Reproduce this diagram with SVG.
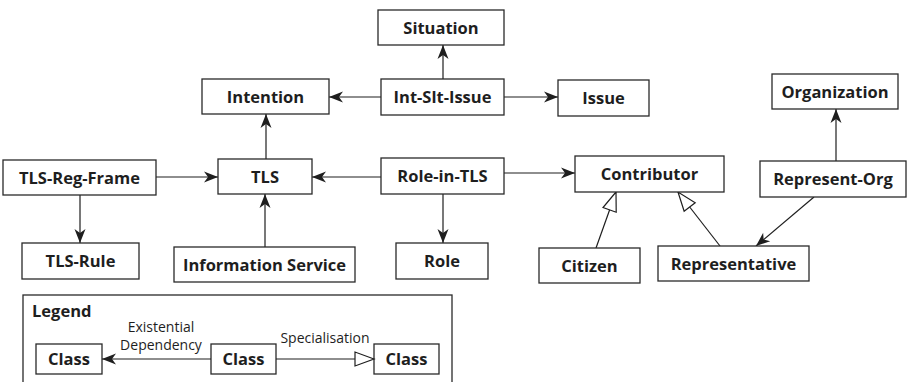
<svg xmlns="http://www.w3.org/2000/svg" width="912" height="382" viewBox="0 0 912 382">
  <style>
    .box { fill: #ffffff; stroke: #2a2a2a; stroke-width: 1.3; }
    .lbl { font-family: "Open Sans", "DejaVu Sans", sans-serif; font-weight: 700; font-size: 16.5px; fill: #1e1e1e; text-anchor: middle; }
    .note { font-family: "Open Sans", "DejaVu Sans", sans-serif; font-weight: 400; font-size: 14px; fill: #1e1e1e; text-anchor: middle; }
    .dep { fill: none; stroke: #1e1e1e; stroke-width: 1.2; marker-end: url(#dep); }
    .spec { fill: none; stroke: #1e1e1e; stroke-width: 1.2; marker-end: url(#spec); }
  </style>
  <defs>
    <!-- existential dependency: filled barbed head -->
    <marker id="dep" viewBox="-15 -7 16 14" refX="0" refY="0" markerWidth="16" markerHeight="14" markerUnits="userSpaceOnUse" orient="auto">
      <path d="M0,0 L-14,-5.5 L-10,0 L-14,5.5 Z" fill="#1e1e1e"/>
    </marker>
    <!-- specialisation: hollow triangle -->
    <marker id="spec" viewBox="-21 -9 23 18" refX="0" refY="0" markerWidth="23" markerHeight="18" markerUnits="userSpaceOnUse" orient="auto">
      <path d="M0,0 L-19,-7 L-19,7 Z" fill="#ffffff" stroke="#1e1e1e" stroke-width="1.2"/>
    </marker>
  </defs>

  <g id="connectors">
    <line class="dep" x1="443" y1="79" x2="443" y2="45"/>
    <line class="dep" x1="381" y1="97" x2="329" y2="97"/>
    <line class="dep" x1="504" y1="97" x2="558" y2="97"/>
    <line class="dep" x1="266" y1="159" x2="266" y2="114"/>
    <line class="dep" x1="156" y1="177" x2="218" y2="177"/>
    <line class="dep" x1="381" y1="177" x2="312" y2="177"/>
    <line class="dep" x1="504" y1="173" x2="575" y2="173"/>
    <line class="dep" x1="80" y1="195" x2="80" y2="243"/>
    <line class="dep" x1="265" y1="247" x2="265" y2="194"/>
    <line class="dep" x1="443" y1="194" x2="443" y2="243"/>
    <line class="dep" x1="836" y1="161" x2="836" y2="109"/>
    <line class="dep" x1="814" y1="197" x2="756" y2="246"/>
    <line class="spec" x1="596" y1="248" x2="616" y2="192"/>
    <line class="spec" x1="720" y1="246" x2="678" y2="192"/>
  </g>

  <g id="situation"><rect class="box" x="378" y="10" width="126" height="35"/><text class="lbl" x="441" y="33.5">Situation</text></g>
  <g id="intention"><rect class="box" x="202" y="79" width="127" height="35"/><text class="lbl" x="265.5" y="102.5">Intention</text></g>
  <g id="int-slt-issue"><rect class="box" x="381" y="79" width="123" height="36"/><text class="lbl" x="442.5" y="103">Int-Slt-Issue</text></g>
  <g id="issue"><rect class="box" x="558" y="80" width="91" height="36"/><text class="lbl" x="603.5" y="104">Issue</text></g>
  <g id="organization"><rect class="box" x="772" y="74" width="126" height="35"/><text class="lbl" x="835" y="97.5">Organization</text></g>
  <g id="tls-reg-frame"><rect class="box" x="3" y="160" width="153" height="35"/><text class="lbl" x="79.5" y="183.5">TLS-Reg-Frame</text></g>
  <g id="tls"><rect class="box" x="218" y="159" width="94" height="35"/><text class="lbl" x="265" y="182.5">TLS</text></g>
  <g id="role-in-tls"><rect class="box" x="381" y="158" width="123" height="36"/><text class="lbl" x="442.5" y="182">Role-in-TLS</text></g>
  <g id="contributor"><rect class="box" x="575" y="156" width="149" height="36"/><text class="lbl" x="649.5" y="180">Contributor</text></g>
  <g id="represent-org"><rect class="box" x="760" y="161" width="146" height="36"/><text class="lbl" x="833" y="185">Represent-Org</text></g>
  <g id="tls-rule"><rect class="box" x="22" y="243" width="117" height="36"/><text class="lbl" x="80.5" y="267">TLS-Rule</text></g>
  <g id="information-service"><rect class="box" x="174" y="247" width="181" height="35"/><text class="lbl" x="264.5" y="270.5">Information Service</text></g>
  <g id="role"><rect class="box" x="396" y="243" width="92" height="36"/><text class="lbl" x="442" y="267">Role</text></g>
  <g id="citizen"><rect class="box" x="539" y="248" width="101" height="35"/><text class="lbl" x="589.5" y="271.5">Citizen</text></g>
  <g id="representative"><rect class="box" x="658" y="246" width="151" height="35"/><text class="lbl" x="733.5" y="269.5">Representative</text></g>

  <g id="legend">
    <rect class="box" x="23" y="295" width="429" height="100"/>
    <text class="lbl" x="32" y="317" style="text-anchor:start">Legend</text>
    <g id="legend-class-a"><rect class="box" x="36" y="344" width="66" height="30"/><text class="lbl" x="69" y="365">Class</text></g>
    <g id="legend-class-b"><rect class="box" x="211" y="344" width="65" height="30"/><text class="lbl" x="243.5" y="365">Class</text></g>
    <g id="legend-class-c"><rect class="box" x="374" y="344" width="65" height="30"/><text class="lbl" x="406.5" y="365">Class</text></g>
    <line class="dep" x1="211" y1="359" x2="102" y2="359"/>
    <line class="spec" x1="276" y1="359" x2="374" y2="359"/>
    <text class="note" x="161" y="332">Existential</text>
    <text class="note" x="161" y="350">Dependency</text>
    <text class="note" x="325" y="343">Specialisation</text>
  </g>
</svg>
